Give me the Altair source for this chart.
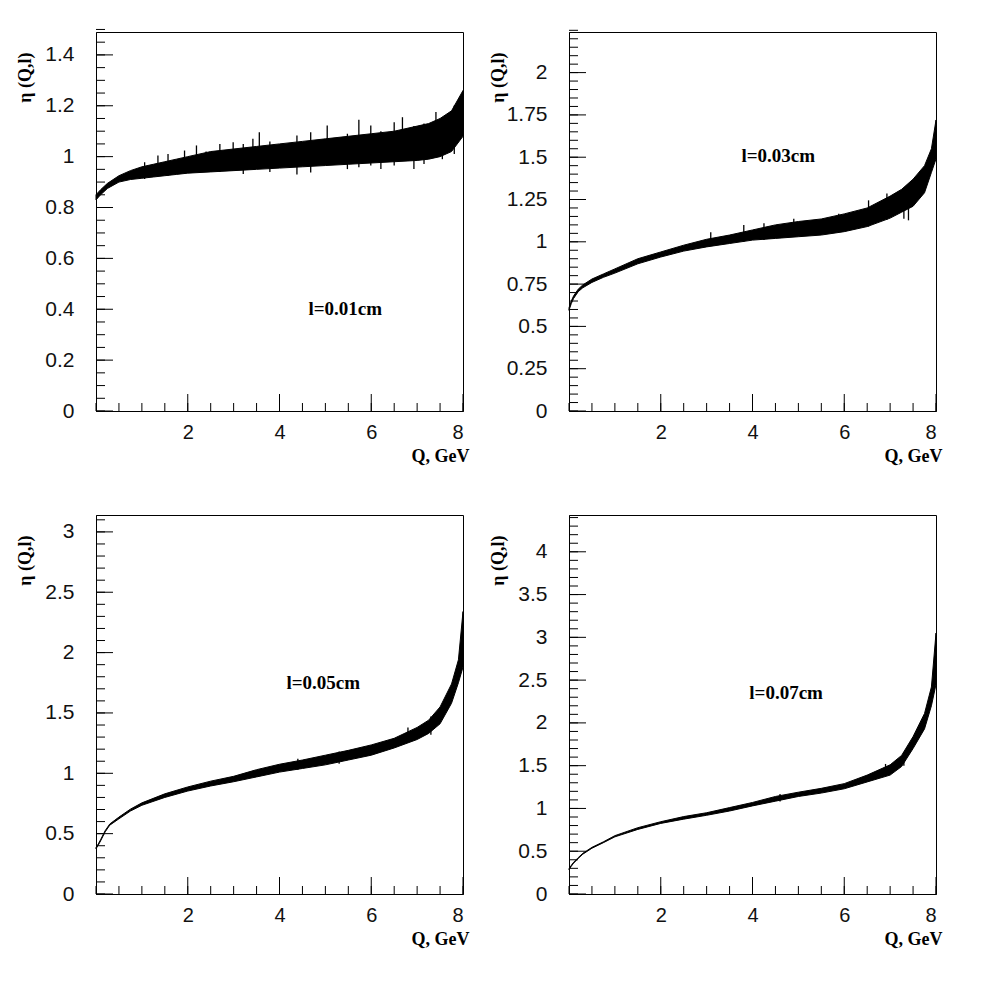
import altair as alt
import pandas as pd

# ---------------- data ----------------
# l = 0.01 cm : core band (lower / upper edge) and the larger spikes
Q_TL = [0, 0.1, 0.25, 0.5, 0.75, 1.0, 1.25, 1.5, 1.75, 2.0, 2.5, 3.0, 3.5, 4.0, 4.5, 5.0, 5.5, 6.0, 6.5, 7.0, 7.25, 7.5, 7.75, 8.0]
LO_TL = [0.83, 0.85, 0.875, 0.90, 0.91, 0.915, 0.92, 0.925, 0.93, 0.935, 0.94, 0.945, 0.95, 0.955, 0.96, 0.965, 0.97, 0.975, 0.98, 0.985, 0.99, 1.0, 1.02, 1.08]
HI_TL = [0.85, 0.87, 0.895, 0.925, 0.945, 0.96, 0.97, 0.98, 0.99, 1.0, 1.02, 1.03, 1.04, 1.05, 1.06, 1.07, 1.08, 1.09, 1.10, 1.12, 1.13, 1.15, 1.18, 1.26]
SPK_TL_Q = [1.06, 1.35, 1.57, 1.93, 2.19, 2.40, 2.70, 2.99, 3.21, 3.42, 3.56, 3.79, 4.38, 4.68, 5.04, 5.48, 5.73, 5.99, 6.21, 6.50, 6.68, 6.93, 7.15, 7.41, 7.55, 7.81]
SPK_TL_LO = [0.912, 0.93, 0.925, 0.932, 0.95, 0.94, 0.94, 0.945, 0.932, 0.96, 0.96, 0.94, 0.93, 0.938, 0.98, 0.951, 0.958, 0.965, 0.951, 0.965, 0.99, 0.951, 0.971, 1.0, 0.99, 1.01]
SPK_TL_HI = [0.978, 1.004, 1.01, 1.024, 1.044, 1.02, 1.05, 1.057, 1.05, 1.07, 1.096, 1.06, 1.083, 1.096, 1.122, 1.09, 1.145, 1.122, 1.10, 1.135, 1.155, 1.12, 1.13, 1.175, 1.15, 1.201]

# l = 0.03 cm
Q_TR = [0, 0.05, 0.1, 0.2, 0.3, 0.5, 0.75, 1.0, 1.5, 2.0, 2.5, 3.0, 3.5, 4.0, 4.5, 5.0, 5.5, 6.0, 6.5, 7.0, 7.25, 7.5, 7.75, 7.9, 8.0]
LO_TR = [0.595, 0.635, 0.665, 0.705, 0.728, 0.76, 0.79, 0.815, 0.87, 0.91, 0.945, 0.97, 0.99, 1.01, 1.02, 1.03, 1.04, 1.06, 1.09, 1.14, 1.175, 1.21, 1.29, 1.41, 1.49]
HI_TR = [0.61, 0.65, 0.68, 0.72, 0.745, 0.78, 0.81, 0.84, 0.90, 0.94, 0.98, 1.015, 1.04, 1.07, 1.10, 1.12, 1.135, 1.165, 1.20, 1.27, 1.31, 1.37, 1.45, 1.55, 1.72]
SPK_TR_Q = [3.09, 3.81, 4.25, 4.9, 5.88, 6.53, 6.93, 7.3, 7.4]
SPK_TR_LO = [0.98, 1.0, 1.01, 1.03, 1.06, 1.09, 1.13, 1.136, 1.127]
SPK_TR_HI = [1.057, 1.10, 1.11, 1.136, 1.166, 1.245, 1.285, 1.25, 1.334]

# l = 0.05 cm
Q_BL = [0, 0.05, 0.1, 0.2, 0.3, 0.5, 0.75, 1.0, 1.5, 2.0, 2.5, 3.0, 3.5, 4.0, 4.5, 5.0, 5.5, 6.0, 6.5, 7.0, 7.25, 7.5, 7.75, 7.9, 8.0]
LO_BL = [0.375, 0.405, 0.44, 0.515, 0.57, 0.623, 0.687, 0.735, 0.80, 0.853, 0.895, 0.93, 0.97, 1.01, 1.04, 1.07, 1.11, 1.15, 1.21, 1.28, 1.33, 1.41, 1.58, 1.75, 1.88]
HI_BL = [0.385, 0.415, 0.45, 0.525, 0.58, 0.637, 0.703, 0.755, 0.83, 0.887, 0.935, 0.975, 1.03, 1.075, 1.11, 1.15, 1.19, 1.235, 1.29, 1.38, 1.44, 1.55, 1.74, 1.94, 2.34]
SPK_BL_Q = [4.4, 5.3, 6.8, 7.3]
SPK_BL_LO = [1.03, 1.08, 1.26, 1.32]
SPK_BL_HI = [1.12, 1.18, 1.38, 1.47]

# l = 0.07 cm
Q_BR = [0, 0.05, 0.1, 0.2, 0.3, 0.5, 0.75, 1.0, 1.5, 2.0, 2.5, 3.0, 3.5, 4.0, 4.5, 5.0, 5.5, 6.0, 6.5, 7.0, 7.25, 7.5, 7.75, 7.9, 8.0]
LO_BR = [0.285, 0.325, 0.36, 0.415, 0.465, 0.535, 0.60, 0.668, 0.755, 0.825, 0.875, 0.92, 0.97, 1.03, 1.085, 1.14, 1.18, 1.23, 1.31, 1.39, 1.49, 1.70, 1.93, 2.2, 2.45]
HI_BR = [0.295, 0.335, 0.37, 0.425, 0.475, 0.545, 0.61, 0.682, 0.775, 0.845, 0.905, 0.95, 1.01, 1.07, 1.14, 1.19, 1.235, 1.29, 1.39, 1.51, 1.62, 1.84, 2.11, 2.42, 3.05]
SPK_BR_Q = [4.6, 6.9, 7.3]
SPK_BR_LO = [1.08, 1.40, 1.50]
SPK_BR_HI = [1.17, 1.52, 1.66]

LABELS = ["l=0.01cm", "l=0.03cm", "l=0.05cm", "l=0.07cm"]

Y_TICKS_TL = [0, 0.2, 0.4, 0.6, 0.8, 1, 1.2, 1.4]
Y_TICKS_TR = [0, 0.25, 0.5, 0.75, 1, 1.25, 1.5, 1.75, 2]
Y_TICKS_BL = [0, 0.5, 1, 1.5, 2, 2.5, 3]
Y_TICKS_BR = [0, 0.5, 1, 1.5, 2, 2.5, 3, 3.5, 4]
X_TICKS = [2, 4, 6, 8]

# ---------------- layout / style ----------------
W, H = 367, 379
SERIF = "Liberation Serif"
SANS = "Liberation Sans"

PANELS = [
    dict(q=Q_TL, lo=LO_TL, hi=HI_TL, sq=SPK_TL_Q, slo=SPK_TL_LO, shi=SPK_TL_HI,
         ymax=1.49, major=Y_TICKS_TL, mstep=0.05, label=LABELS[0], lx=4.63, ly=0.40),
    dict(q=Q_TR, lo=LO_TR, hi=HI_TR, sq=SPK_TR_Q, slo=SPK_TR_LO, shi=SPK_TR_HI,
         ymax=2.24, major=Y_TICKS_TR, mstep=0.05, label=LABELS[1], lx=3.76, ly=1.51),
    dict(q=Q_BL, lo=LO_BL, hi=HI_BL, sq=SPK_BL_Q, slo=SPK_BL_LO, shi=SPK_BL_HI,
         ymax=3.14, major=Y_TICKS_BL, mstep=0.1, label=LABELS[2], lx=4.15, ly=1.75),
    dict(q=Q_BR, lo=LO_BR, hi=HI_BR, sq=SPK_BR_Q, slo=SPK_BR_LO, shi=SPK_BR_HI,
         ymax=4.43, major=Y_TICKS_BR, mstep=0.1, label=LABELS[3], lx=3.93, ly=2.35),
]


def panel(p):
    df = pd.DataFrame({"Q": p["q"], "lo": p["lo"], "hi": p["hi"]})
    sp = pd.DataFrame({"Q": p["sq"], "lo": p["slo"], "hi": p["shi"]})
    xs = alt.Scale(domain=[0, 8], nice=False, zero=False)
    ys = alt.Scale(domain=[0, p["ymax"]], nice=False, zero=False)
    xaxis = alt.Axis(values=X_TICKS, ticks=False, grid=False, domainColor="black",
                     labelFont=SANS, labelFontSize=20, labelColor="#111", labelPadding=11,
                     labelExpr="'' + datum.value",
                     title="Q, GeV", titleFont=SERIF, titleFontWeight="bold", titleFontSize=18,
                     titleColor="black", titleAnchor="end", titleAlign="right",
                     titleX=W + 6, titleY=45, titleBaseline="middle")
    yaxis = alt.Axis(values=p["major"], ticks=False, grid=False, domainColor="black",
                     labelFont=SANS, labelFontSize=21, labelColor="#111", labelPadding=22,
                     labelExpr="'' + datum.value",
                     title="η (Q,l)", titleFont=SERIF, titleFontWeight="bold", titleFontSize=18,
                     titleColor="black", titleAngle=270, titleAlign="right",
                     titleX=-71, titleY=20, titleBaseline="middle")
    X = lambda f: alt.X(f, scale=xs, axis=xaxis, title="Q, GeV")
    Y = lambda f: alt.Y(f, scale=ys, axis=yaxis, title="η (Q,l)")
    band = alt.Chart(df).mark_area(color="black", stroke="black", strokeWidth=1).encode(
        x=X("Q:Q"), y=Y("lo:Q"), y2="hi:Q",
    )
    spikes = alt.Chart(sp).mark_rule(color="black", strokeWidth=1.3).encode(
        x=X("Q:Q"), y=Y("lo:Q"), y2="hi:Q",
    )
    n = int(round(p["ymax"] / p["mstep"]))
    minor_y = [round(i * p["mstep"], 4) for i in range(n + 1)]
    minor_x = [i * 0.5 for i in range(17)]
    ymaj = alt.Chart(pd.DataFrame({"v": p["major"]})).mark_rule(color="black").encode(
        y=Y("v:Q"), x=alt.value(0), x2=alt.value(17))
    ymin = alt.Chart(pd.DataFrame({"v": minor_y})).mark_rule(color="black").encode(
        y=Y("v:Q"), x=alt.value(0), x2=alt.value(9))
    xmaj = alt.Chart(pd.DataFrame({"v": X_TICKS})).mark_rule(color="black").encode(
        x=X("v:Q"), y=alt.value(H), y2=alt.value(H - 17))
    xmin = alt.Chart(pd.DataFrame({"v": minor_x})).mark_rule(color="black").encode(
        x=X("v:Q"), y=alt.value(H), y2=alt.value(H - 8))
    txt = alt.Chart(pd.DataFrame({"x": [p["lx"]], "y": [p["ly"]], "t": [p["label"]]})).mark_text(
        font=SERIF, fontWeight="bold", fontSize=19, align="left", baseline="middle", color="black"
    ).encode(x=X("x:Q"), y=Y("y:Q"), text="t:N")
    return alt.layer(band, spikes, ymin, ymaj, xmin, xmaj, txt).properties(width=W, height=H)


top = alt.hconcat(panel(PANELS[0]), panel(PANELS[1]), spacing=18)
bottom = alt.hconcat(panel(PANELS[2]), panel(PANELS[3]), spacing=18)
chart = alt.vconcat(top, bottom, spacing=48).configure_view(
    stroke="black", strokeWidth=1
).properties(padding={"left": 7, "top": 20, "right": 5, "bottom": 5}, background="white")

chart.save("out.html", embed_options={"renderer": "svg", "actions": False})
